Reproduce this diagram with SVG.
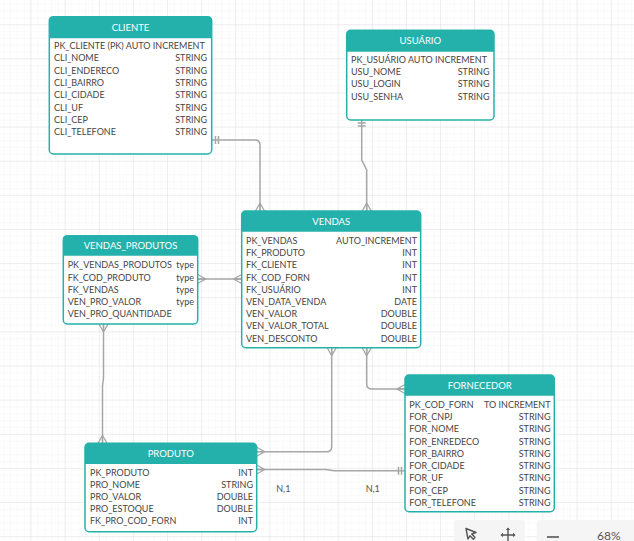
<svg xmlns="http://www.w3.org/2000/svg" width="634" height="541" viewBox="0 0 634 541">
<style>
.hdr{fill:#25b1ab}
.body{fill:#ffffff;stroke:#25b1ab;stroke-width:1.5}
.title{font-family:Lato,"Liberation Sans",sans-serif;font-size:9.5px;fill:#ffffff;text-anchor:middle}
.row{font-family:Lato,"Liberation Sans",sans-serif;font-size:9px;fill:#454545}
.r{text-anchor:end}
.conn{fill:none;stroke:#a6a6a6;stroke-width:1.5}
.lbl{font-family:Lato,"Liberation Sans",sans-serif;font-size:9px;fill:#555}
</style>
<defs>
<pattern id="minor" patternUnits="userSpaceOnUse" x="30.5" y="24.2" width="6.826" height="6.826">
<path d="M0,0 V6.826 M0,0 H6.826" fill="none" stroke="#f3f3f3" stroke-width="0.8"/>
</pattern>
<pattern id="major" patternUnits="userSpaceOnUse" x="30.5" y="24.2" width="34.13" height="34.13">
<path d="M0,0 V34.13 M0,0 H34.13" fill="none" stroke="#e2e2e2" stroke-width="1"/>
</pattern>
<path id="crow" d="M-4.5,0 L0,-8 L4.5,0 M0,-8 V0" fill="none" stroke="#a6a6a6" stroke-width="1.3"/>
</defs>
<rect width="634" height="541" fill="#ffffff"/>
<rect width="634" height="541" fill="url(#minor)"/>
<rect width="634" height="541" fill="url(#major)"/>

<g id="connectors">
<path class="conn" d="M212,140 H255 Q260,140 260,145 V211"/>
<path class="conn" d="M361.7,120 V160 L366.7,170 V211"/>
<path class="conn" d="M197.7,279 H241.7"/>
<path class="conn" d="M103.5,324 V378 L102.5,386 V443.3"/>
<path class="conn" d="M331.7,347.7 V446.7 Q331.7,451.7 326.7,451.7 H256.7"/>
<path class="conn" d="M366.7,347.7 V384 Q366.7,389 371.7,389 H405"/>
<path class="conn" d="M256.7,469.5 H326 L334,470.7 H405"/>
<use href="#crow" transform="translate(260,211)"/>
<use href="#crow" transform="translate(366.7,211)"/>
<use href="#crow" transform="translate(197.7,279) rotate(90)"/>
<use href="#crow" transform="translate(241.7,279) rotate(-90)"/>
<use href="#crow" transform="translate(103.5,324) rotate(180)"/>
<use href="#crow" transform="translate(102.5,443.3)"/>
<use href="#crow" transform="translate(331.7,347.7) rotate(180)"/>
<use href="#crow" transform="translate(256.7,451.7) rotate(90)"/>
<use href="#crow" transform="translate(366.7,347.7) rotate(180)"/>
<use href="#crow" transform="translate(405,389) rotate(-90)"/>
<use href="#crow" transform="translate(256.7,469.5) rotate(90)"/>
<path class="conn" stroke-width="1.2" d="M215.5,136 V144 M218.5,136 V144 M357.7,123 H365.7 M357.7,126 H365.7 M398.5,466.7 V474.7 M401.5,466.7 V474.7"/>
<text class="lbl" x="283.3" y="491.5" text-anchor="middle">N,1</text>
<text class="lbl" x="372.7" y="491.5" text-anchor="middle">N,1</text>
</g>

<g id="cliente">
<rect class="body" x="49.3" y="16.7" width="162.4" height="137.3" rx="4"/>
<path class="hdr" d="M49.3,38.3 V20.7 Q49.3,16.7 53.3,16.7 H207.7 Q211.7,16.7 211.7,20.7 V38.3 Z"/>
<text class="title" x="130.5" y="30.5">CLIENTE</text>
<text class="row" x="54" y="49">PK_CLIENTE (PK) AUTO INCREMENT</text>
<text class="row" x="54" y="61.3">CLI_NOME</text><text class="row r" x="207" y="61.3">STRING</text>
<text class="row" x="54" y="73.6">CLI_ENDERECO</text><text class="row r" x="207" y="73.6">STRING</text>
<text class="row" x="54" y="85.9">CLI_BAIRRO</text><text class="row r" x="207" y="85.9">STRING</text>
<text class="row" x="54" y="98.2">CLI_CIDADE</text><text class="row r" x="207" y="98.2">STRING</text>
<text class="row" x="54" y="110.5">CLI_UF</text><text class="row r" x="207" y="110.5">STRING</text>
<text class="row" x="54" y="122.8">CLI_CEP</text><text class="row r" x="207" y="122.8">STRING</text>
<text class="row" x="54" y="135.1">CLI_TELEFONE</text><text class="row r" x="207" y="135.1">STRING</text>
</g>

<g id="usuario">
<rect class="body" x="346.7" y="30.3" width="147.3" height="89.7" rx="4"/>
<path class="hdr" d="M346.7,51.7 V34.3 Q346.7,30.3 350.7,30.3 H490 Q494,30.3 494,34.3 V51.7 Z"/>
<text class="title" x="420.3" y="44">USUÁRIO</text>
<text class="row" x="351" y="62.6">PK_USUÁRIO AUTO INCREMENT</text>
<text class="row" x="351" y="74.9">USU_NOME</text><text class="row r" x="489.5" y="74.9">STRING</text>
<text class="row" x="351" y="87.2">USU_LOGIN</text><text class="row r" x="489.5" y="87.2">STRING</text>
<text class="row" x="351" y="99.5">USU_SENHA</text><text class="row r" x="489.5" y="99.5">STRING</text>
</g>

<g id="vendas">
<rect class="body" x="241.7" y="211" width="179" height="136.7" rx="4"/>
<path class="hdr" d="M241.7,231.7 V215 Q241.7,211 245.7,211 H416.7 Q420.7,211 420.7,215 V231.7 Z"/>
<text class="title" x="331.2" y="225">VENDAS</text>
<text class="row" x="246" y="244">PK_VENDAS</text><text class="row r" x="417" y="244">AUTO_INCREMENT</text>
<text class="row" x="246" y="256.2">FK_PRODUTO</text><text class="row r" x="417" y="256.2">INT</text>
<text class="row" x="246" y="268.4">FK_CLIENTE</text><text class="row r" x="417" y="268.4">INT</text>
<text class="row" x="246" y="280.6">FK_COD_FORN</text><text class="row r" x="417" y="280.6">INT</text>
<text class="row" x="246" y="292.8">FK_USUÁRIO</text><text class="row r" x="417" y="292.8">INT</text>
<text class="row" x="246" y="305">VEN_DATA_VENDA</text><text class="row r" x="417" y="305">DATE</text>
<text class="row" x="246" y="317.2">VEN_VALOR</text><text class="row r" x="417" y="317.2">DOUBLE</text>
<text class="row" x="246" y="329.4">VEN_VALOR_TOTAL</text><text class="row r" x="417" y="329.4">DOUBLE</text>
<text class="row" x="246" y="341.6">VEN_DESCONTO</text><text class="row r" x="417" y="341.6">DOUBLE</text>
</g>

<g id="vendas_produtos">
<rect class="body" x="63.3" y="235.7" width="134.4" height="88.3" rx="4"/>
<path class="hdr" d="M63.3,255.7 V239.7 Q63.3,235.7 67.3,235.7 H193.7 Q197.7,235.7 197.7,239.7 V255.7 Z"/>
<text class="title" x="130.5" y="249">VENDAS_PRODUTOS</text>
<text class="row" x="67.7" y="268.3">PK_VENDAS_PRODUTOS</text><text class="row r" x="194" y="268.3">type</text>
<text class="row" x="67.7" y="280.5">FK_COD_PRODUTO</text><text class="row r" x="194" y="280.5">type</text>
<text class="row" x="67.7" y="292.7">FK_VENDAS</text><text class="row r" x="194" y="292.7">type</text>
<text class="row" x="67.7" y="304.9">VEN_PRO_VALOR</text><text class="row r" x="194" y="304.9">type</text>
<text class="row" x="67.7" y="317.1">VEN_PRO_QUANTIDADE</text>
</g>

<g id="fornecedor">
<rect class="body" x="405" y="375" width="149.3" height="136.7" rx="4"/>
<path class="hdr" d="M405,395.7 V379 Q405,375 409,375 H550.3 Q554.3,375 554.3,379 V395.7 Z"/>
<text class="title" x="479.7" y="388.5">FORNECEDOR</text>
<text class="row" x="409.3" y="407.6">PK_COD_FORN</text><text class="row r" x="550.5" y="407.6">TO INCREMENT</text>
<text class="row" x="409.3" y="419.9">FOR_CNPJ</text><text class="row r" x="550.5" y="419.9">STRING</text>
<text class="row" x="409.3" y="432.2">FOR_NOME</text><text class="row r" x="550.5" y="432.2">STRING</text>
<text class="row" x="409.3" y="444.5">FOR_ENREDECO</text><text class="row r" x="550.5" y="444.5">STRING</text>
<text class="row" x="409.3" y="456.8">FOR_BAIRRO</text><text class="row r" x="550.5" y="456.8">STRING</text>
<text class="row" x="409.3" y="469.1">FOR_CIDADE</text><text class="row r" x="550.5" y="469.1">STRING</text>
<text class="row" x="409.3" y="481.4">FOR_UF</text><text class="row r" x="550.5" y="481.4">STRING</text>
<text class="row" x="409.3" y="493.7">FOR_CEP</text><text class="row r" x="550.5" y="493.7">STRING</text>
<text class="row" x="409.3" y="506">FOR_TELEFONE</text><text class="row r" x="550.5" y="506">STRING</text>
</g>

<g id="produto">
<rect class="body" x="85" y="443.3" width="171.7" height="88.4" rx="4"/>
<path class="hdr" d="M85,464 V447.3 Q85,443.3 89,443.3 H252.7 Q256.7,443.3 256.7,447.3 V464 Z"/>
<text class="title" x="170.8" y="456.8">PRODUTO</text>
<text class="row" x="90" y="475.6">PK_PRODUTO</text><text class="row r" x="253" y="475.6">INT</text>
<text class="row" x="90" y="487.8">PRO_NOME</text><text class="row r" x="253" y="487.8">STRING</text>
<text class="row" x="90" y="500">PRO_VALOR</text><text class="row r" x="253" y="500">DOUBLE</text>
<text class="row" x="90" y="512.2">PRO_ESTOQUE</text><text class="row r" x="253" y="512.2">DOUBLE</text>
<text class="row" x="90" y="524.4">FK_PRO_COD_FORN</text><text class="row r" x="253" y="524.4">INT</text>
</g>

<g id="toolbar">
<rect x="454" y="520" width="71" height="26" rx="3" fill="#f5f5f5"/>
<rect x="537" y="520" width="100" height="26" rx="3" fill="#f5f5f5"/>
<path d="M466,528.5 L476,532.5 L471.8,534 L475,537.5 L473.3,539.2 L470,535.8 L468,539 Z" fill="none" stroke="#555" stroke-width="1.4" stroke-linejoin="round"/>
<path d="M508,529 V541 M501.5,535 H514.5" stroke="#555" stroke-width="1.4" fill="none"/>
<path d="M508,527.5 L505.8,530 H510.2 Z M500.5,535 L503,532.8 V537.2 Z M515.5,535 L513,532.8 V537.2 Z" fill="#555"/>
<path d="M547,537 H559" stroke="#555" stroke-width="1.6"/>
<text x="597" y="539.5" font-family="Lato,'Liberation Sans',sans-serif" font-size="12" fill="#555">68%</text>
</g>
</svg>
